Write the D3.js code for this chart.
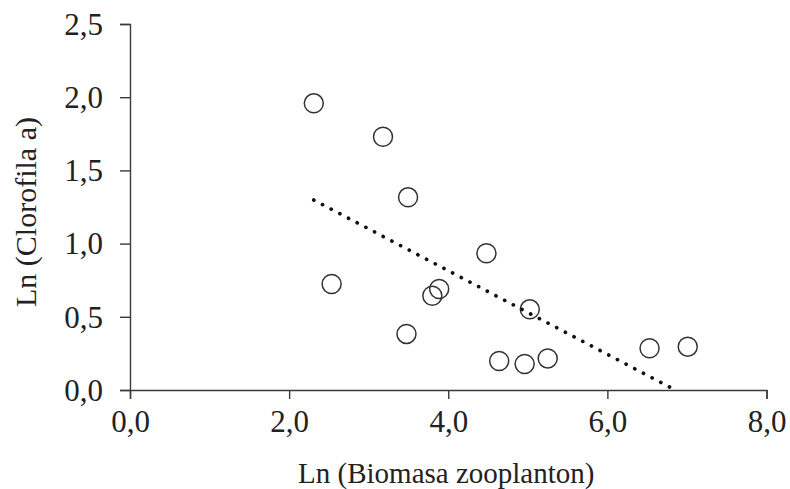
<!DOCTYPE html>
<html>
<head>
<meta charset="utf-8">
<script src="https://cdn.jsdelivr.net/npm/d3@7/dist/d3.min.js"></script>
<style>
  html, body { margin: 0; padding: 0; background: #ffffff; }
  svg { display: block; }
</style>
</head>
<body>
<svg id="chart" width="790" height="489"></svg>
<script>
// Ln of zooplankton biomass vs. ln of chlorophyll a, one point per sample
const biomasa = [2.31, 3.18, 3.495, 4.48, 2.534, 3.886, 3.80, 5.025, 3.475, 4.64, 4.96, 5.25, 6.53, 7.01];
const clorofila = [1.958, 1.730, 1.316, 0.934, 0.724, 0.690, 0.644, 0.551, 0.383, 0.198, 0.178, 0.216, 0.285, 0.296];

const xTicks = [0, 2, 4, 6, 8];
const yTicks = [0, 0.5, 1.0, 1.5, 2.0, 2.5];
const xTitle = "Ln (Biomasa zooplanton)";
const yTitle = "Ln (Clorofila a)";

const svg = d3.select("#chart");
const plotLeft = 130, plotRight = 766.5, plotTop = 24, plotBottom = 390;

const x = d3.scaleLinear().domain([0, 8]).range([plotLeft, plotRight]);
const y = d3.scaleLinear().domain([0, 2.5]).range([plotBottom, plotTop]);

const fmt = v => d3.format(".1f")(v).replace(".", ",");
const axisColor = "#3a3a3a";
const font = "'Liberation Serif', 'Times New Roman', serif";

// Y axis
const gy = svg.append("g")
  .attr("transform", `translate(${plotLeft},0)`)
  .call(d3.axisLeft(y).tickValues(yTicks).tickFormat(fmt).tickSize(10).tickPadding(17))
  .attr("font-family", font).attr("font-size", 31);
gy.select(".domain").attr("stroke", axisColor).attr("stroke-width", 1.4);
gy.selectAll(".tick line").attr("stroke", axisColor).attr("stroke-width", 1.4);
gy.selectAll(".tick text").attr("fill", "#222").attr("dy", "0.33em");

// X axis
const gx = svg.append("g")
  .attr("transform", `translate(0,${plotBottom})`)
  .call(d3.axisBottom(x).tickValues(xTicks).tickFormat(fmt).tickSize(9).tickPadding(11))
  .attr("font-family", font).attr("font-size", 31);
gx.select(".domain").attr("stroke", axisColor).attr("stroke-width", 1.4);
gx.selectAll(".tick line").attr("stroke", axisColor).attr("stroke-width", 1.4);
gx.selectAll(".tick text").attr("fill", "#222").attr("dy", "0.72em");

// Axis titles
svg.append("text")
  .attr("x", (plotLeft + plotRight) / 2 - 2).attr("y", 483)
  .attr("text-anchor", "middle")
  .attr("font-family", font).attr("font-size", 29).attr("fill", "#222")
  .text(xTitle);

svg.append("text")
  .attr("transform", `translate(36,${(plotTop + plotBottom) / 2 + 5}) rotate(-90)`)
  .attr("text-anchor", "middle")
  .attr("font-family", font).attr("font-size", 30).attr("fill", "#222")
  .text(yTitle);

// Points
svg.append("g").selectAll("circle")
  .data(biomasa.map((b, i) => [b, clorofila[i]]))
  .join("circle")
  .attr("cx", d => x(d[0]))
  .attr("cy", d => y(d[1]))
  .attr("r", 9.5)
  .attr("fill", "none")
  .attr("stroke", "#333")
  .attr("stroke-width", 1.5);

// Least-squares trend line, from the smallest x until it meets y = 0
const mx = d3.mean(biomasa), my = d3.mean(clorofila);
const sxy = d3.sum(biomasa, (b, i) => (b - mx) * (clorofila[i] - my));
const sxx = d3.sum(biomasa, b => (b - mx) * (b - mx));
const slope = sxy / sxx, intercept = my - slope * mx;
const x0 = d3.min(biomasa);
const x1 = Math.min(d3.max(biomasa), -intercept / slope);

svg.append("line")
  .attr("x1", x(x0)).attr("y1", y(slope * x0 + intercept))
  .attr("x2", x(x1)).attr("y2", y(slope * x1 + intercept))
  .attr("stroke", "#111")
  .attr("stroke-width", 3.7)
  .attr("stroke-linecap", "round")
  .attr("stroke-dasharray", "0.1 9.7");
</script>
</body>
</html>
